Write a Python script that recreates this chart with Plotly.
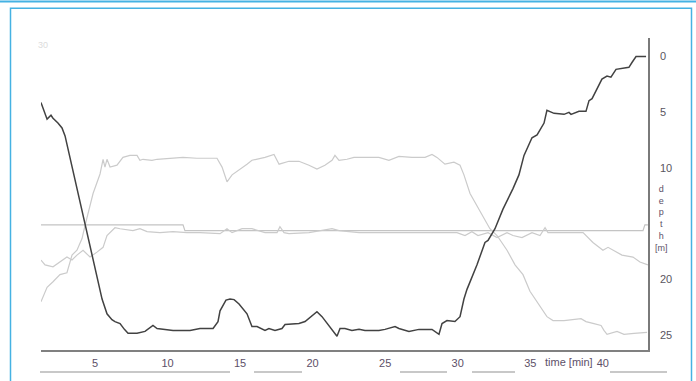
import plotly.graph_objects as go

# Dive log: depth profile plus three auxiliary traces drawn on the depth scale
depth_t = [1.28, 1.56, 1.70, 1.97, 2.11, 2.45, 2.73, 2.94, 3.63, 4.31, 5.00, 5.49, 5.83, 6.17,
           6.38, 6.73, 7.03, 7.28, 7.90, 8.45, 9.00, 9.28, 9.83, 10.38, 11.55, 12.24, 13.14,
           13.48, 13.62, 14.03, 14.31, 14.59, 14.93, 15.48, 15.82, 16.17, 16.72, 16.99, 17.41,
           17.89, 18.10, 19.06, 19.48, 20.30, 20.65, 21.13, 21.47, 21.68, 21.89, 22.23, 22.71,
           23.20, 23.61, 24.57, 24.99, 25.68, 25.95, 26.64, 27.33, 28.23, 28.71, 28.92, 29.26,
           29.81, 30.16, 30.43, 30.64, 31.33, 31.88, 32.09, 32.57, 33.12, 33.81, 34.22, 34.57,
           34.91, 35.12, 35.47, 35.95, 36.15, 36.64, 37.33, 37.67, 37.81, 38.36, 38.84, 39.05,
           39.26, 39.60, 39.94, 40.29, 40.56, 40.91, 41.25, 41.80, 42.01, 42.29, 42.98]
depth_m = [4.12, 5.09, 5.61, 5.26, 5.53, 5.96, 6.40, 7.11, 11.05, 15.00, 19.12, 21.75, 23.07, 23.60,
           23.77, 23.95, 24.47, 24.82, 24.82, 24.65, 24.12, 24.39, 24.47, 24.56, 24.56, 24.39, 24.39,
           23.77, 22.81, 21.84, 21.75, 21.80, 22.19, 23.07, 24.21, 24.21, 24.56, 24.39, 24.56,
           24.39, 24.04, 23.95, 23.77, 22.89, 23.33, 24.12, 24.65, 25.09, 24.39, 24.39, 24.56,
           24.47, 24.56, 24.56, 24.47, 24.21, 24.39, 24.65, 24.47, 24.47, 24.91, 23.95, 23.68,
           23.77, 23.33, 21.75, 20.88, 18.68, 16.67, 16.49, 15.44, 13.68, 11.84, 10.61, 8.86,
           7.89, 7.28, 7.02, 5.96, 4.82, 5.09, 5.18, 5.00, 5.18, 4.91, 4.91, 3.95,
           3.77, 2.89, 2.02, 1.75, 1.84, 1.14, 1.05, 0.96, 0.53, 0.00, 0.00]

upper_t = [1.28, 1.70, 2.11, 2.59, 3.07, 3.42, 3.76, 4.11, 4.31, 4.66, 4.87, 5.35, 5.56, 5.69,
           5.83, 6.04, 6.52, 6.93, 7.41, 7.90, 8.10, 8.31, 8.93, 9.28, 10.17, 11.07, 12.03, 12.93,
           13.41, 13.76, 14.10, 14.45, 14.93, 15.48, 15.82, 16.72, 17.34, 17.69, 18.37, 19.06,
           19.75, 20.30, 20.85, 21.34, 21.54, 21.82, 22.37, 22.85, 23.61, 24.57, 25.26, 25.95,
           26.85, 27.75, 28.23, 28.57, 29.12, 29.74, 30.16, 30.43, 30.85, 31.33, 31.88, 32.22,
           32.71, 33.40, 33.95, 34.50, 34.98, 35.67, 36.15, 36.57, 37.33, 38.50, 38.84, 39.39,
           39.88, 40.08, 40.29, 40.98, 41.46, 42.15, 43.05]
upper_v = [22.00, 20.70, 20.20, 19.56, 19.39, 17.81, 17.37, 16.32, 15.18, 13.42, 12.28, 10.53, 9.21, 9.91,
           9.21, 9.91, 9.74, 9.04, 8.86, 8.86, 9.30, 9.21, 9.30, 9.21, 9.12, 9.04, 9.12, 9.12,
           9.12, 9.91, 11.23, 10.61, 10.18, 9.65, 9.30, 9.04, 8.77, 9.65, 9.39, 9.39,
           9.74, 10.09, 9.74, 9.30, 8.86, 9.30, 9.21, 9.04, 9.04, 9.04, 9.30, 8.95,
           9.04, 9.04, 8.77, 9.04, 9.65, 9.47, 9.74, 10.61, 12.28, 13.42, 14.74, 15.44,
           16.05, 17.37, 18.68, 19.56, 21.05, 22.37, 23.33, 23.68, 23.68, 23.51, 23.77, 23.95,
           24.12, 24.56, 24.91, 24.65, 24.91, 24.82, 24.74]

middle_t = [1.28, 1.56, 2.11, 2.59, 3.07, 3.42, 3.76, 4.18, 4.66, 5.14, 5.56, 5.83, 6.04, 6.38,
            6.73, 7.62, 8.10, 8.59, 9.48, 10.38, 11.34, 12.24, 13.62, 14.10, 14.45, 15.14, 15.82,
            16.72, 17.55, 17.75, 18.03, 18.37, 19.75, 21.34, 21.82, 23.20, 24.57, 25.95, 27.33,
            28.71, 29.95, 30.50, 30.98, 31.40, 32.09, 32.71, 33.40, 33.81, 34.43, 35.12, 35.67,
            36.02, 36.22, 37.53, 38.64, 39.32, 40.01, 40.36, 40.98, 41.32, 42.08, 42.56, 43.11]
middle_v = [18.25, 18.68, 18.86, 18.42, 17.98, 18.25, 17.81, 17.37, 17.98, 17.54, 17.11, 16.05, 15.79, 15.35,
            15.44, 15.61, 15.44, 15.70, 15.79, 15.70, 15.79, 15.79, 15.88, 15.44, 15.79, 15.44, 15.44,
            15.79, 15.79, 15.26, 15.79, 15.88, 15.79, 15.44, 15.61, 15.79, 15.79, 15.79, 15.79,
            15.79, 15.79, 16.05, 15.70, 16.05, 15.79, 16.23, 15.79, 16.05, 16.23, 15.79, 16.05,
            15.35, 15.79, 15.79, 15.79, 16.67, 17.37, 17.11, 17.54, 17.81, 17.98, 18.42, 18.68]

ref_t = [1.28, 11.07, 11.20, 42.77, 42.90, 43.11]
ref_v = [15.09, 15.09, 15.61, 15.61, 15.09, 15.09]

x_ticks = [5, 10, 15, 20, 25, 30, 35, 40]
y_ticks = [0, 5, 10, 20, 25]
axis_letters = ["d", "e", "p", "t", "h", "[m]"]

X_RANGE = [1.282, 43.115]
Y_RANGE = [26.32, -1.67]

W, H = 696, 381
L, R, T, B = 41, 48, 38, 24
plot_w = W - L - R
plot_h = H - T - B


def px(xp):
    return (xp - L) / plot_w


def py(yp):
    return (H - B - yp) / plot_h


fig = go.Figure()

grey = "#cbcbcb"
fig.add_trace(go.Scatter(x=ref_t, y=ref_v, mode="lines",
                         line=dict(color="#c4c4c4", width=1.2), hoverinfo="skip"))
fig.add_trace(go.Scatter(x=middle_t, y=middle_v, mode="lines",
                         line=dict(color=grey, width=1.2), hoverinfo="skip"))
fig.add_trace(go.Scatter(x=upper_t, y=upper_v, mode="lines",
                         line=dict(color=grey, width=1.2), hoverinfo="skip"))
fig.add_trace(go.Scatter(x=depth_t, y=depth_m, mode="lines",
                         line=dict(color="#424242", width=1.5), hoverinfo="skip"))

label_font = dict(family="Liberation Sans, Arial, sans-serif", size=11, color="#5d5068")

fig.update_xaxes(range=X_RANGE, tickvals=x_ticks, ticktext=[str(v) for v in x_ticks],
                 showgrid=False, zeroline=False, showline=True, linecolor="#808080",
                 linewidth=2, ticks="", tickfont=label_font, ticklabelstandoff=2)
fig.update_yaxes(range=Y_RANGE, side="right", tickvals=y_ticks,
                 ticktext=[str(v) for v in y_ticks], showgrid=False, zeroline=False,
                 showline=True, linecolor="#7a7a7a", linewidth=1.5, ticks="",
                 tickfont=dict(family="Liberation Sans, Arial, sans-serif", size=11,
                               color="#5a5560"),
                 ticklabelstandoff=8)

annotations = [
    # stacked axis title beside the depth scale
    dict(x=px(661), y=py(223), xref="paper", yref="paper", text="<br>".join(axis_letters),
         showarrow=False, xanchor="center", yanchor="middle", align="center",
         font=dict(family="Liberation Sans, Arial, sans-serif", size=9, color="#5d5068")),
    dict(x=px(569), y=py(369), xref="paper", yref="paper", text="time [min]",
         showarrow=False, xanchor="center", yanchor="middle", font=label_font),
    dict(x=px(43), y=py(45), xref="paper", yref="paper", text="30",
         showarrow=False, xanchor="center", yanchor="middle",
         font=dict(family="Liberation Sans, Arial, sans-serif", size=9, color="#dcdcdc")),
]

blue = "#45b2e3"
shapes = [
    dict(type="line", xref="paper", yref="paper", x0=px(0), x1=px(W), y0=py(0.8), y1=py(0.8),
         line=dict(color=blue, width=2)),
    dict(type="rect", xref="paper", yref="paper", x0=px(10.5), x1=px(691.5), y0=py(390),
         y1=py(7.5), line=dict(color=blue, width=1.5)),
]
for a, b in [(40, 230), (254, 302), (400, 447), (472, 515), (610, 667)]:
    shapes.append(dict(type="line", xref="paper", yref="paper", x0=px(a), x1=px(b),
                       y0=py(379.5), y1=py(379.5), line=dict(color="#c8c8c8", width=2)))

fig.update_layout(width=W, height=H, margin=dict(l=L, r=R, t=T, b=B),
                  paper_bgcolor="white", plot_bgcolor="white", showlegend=False,
                  annotations=annotations, shapes=shapes)

fig.write_html("out.html")
